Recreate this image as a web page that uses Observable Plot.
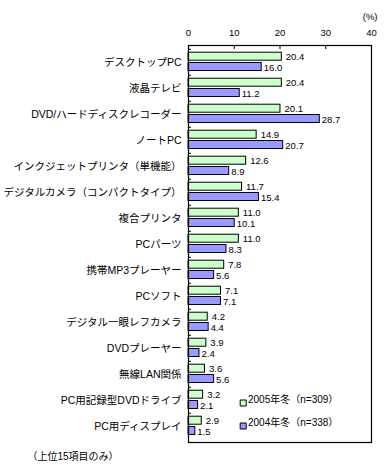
<!DOCTYPE html>
<html><head><meta charset="utf-8">
<script src="https://cdn.jsdelivr.net/npm/d3@7"></script>
<script src="https://cdn.jsdelivr.net/npm/@observablehq/plot@0.6"></script>
<style>
body{margin:0;background:#fff;}
svg{font-family:"Liberation Sans","Noto Sans CJK JP",sans-serif;}
</style></head><body><div id="chart"></div>
<script>
const categories = ["デスクトップPC","液晶テレビ","DVD/ハードディスクレコーダー","ノートPC","インクジェットプリンタ（単機能）","デジタルカメラ（コンパクトタイプ）","複合プリンタ","PCパーツ","携帯MP3プレーヤー","PCソフト","デジタル一眼レフカメラ","DVDプレーヤー","無線LAN関係","PC用記録型DVDドライブ","PC用ディスプレイ"];
const values2005 = [20.4,20.4,20.1,14.9,12.6,11.7,11.0,11.0,7.8,7.1,4.2,3.9,3.6,3.2,2.9];
const values2004 = [16.0,11.2,28.7,20.7,8.9,15.4,10.1,8.3,5.6,7.1,4.4,2.4,5.6,2.1,1.5];
const xTicks = [0,10,20,30,40];
const innerTicks = [10,20,30];
const seriesNames = ["2005年冬（n=309）","2004年冬（n=338）"];
const seriesColors = ["#ccffcc","#9999ff"];
const unitLabel = "(%)";
const footnote = "（上位15項目のみ）";

const d05 = categories.map((c,i)=>({cat:c, v:values2005[i]}));
const d04 = categories.map((c,i)=>({cat:c, v:values2004[i]}));

const legendMarks = seriesNames.flatMap((name,i)=>[
  Plot.dot([name],{frameAnchor:"bottom-left", dx:54.7, dy:-39.5+23*i, symbol:"square", r:3.4, fill:seriesColors[i], stroke:"#000", strokeWidth:1}),
  Plot.text([name],{frameAnchor:"bottom-left", dx:59.5, dy:-39.5+23*i, text:d=>d, textAnchor:"start", fontSize:10, fill:"#000"})
]);

const chart = Plot.plot({
  width:388, height:465,
  marginTop:45, marginBottom:23, marginLeft:188, marginRight:17,
  style:{fontSize:"10.5px", color:"#000", background:"#fff"},
  x:{domain:[0,40], ticks:xTicks},
  y:{domain:categories, type:"band", padding:0},
  marks:[
    Plot.barX(d05,{x:"v", y:"cat", fill:seriesColors[0], stroke:"#000", strokeWidth:1, insetTop:3.2, insetBottom:14.8}),
    Plot.barX(d04,{x:"v", y:"cat", fill:seriesColors[1], stroke:"#000", strokeWidth:1, insetTop:13.5, insetBottom:4.5}),
    Plot.text(d05,{x:"v", y:"cat", text:d=>d.v.toFixed(1), dx:4, dy:-6, textAnchor:"start", fontSize:9.5, fill:"#000"}),
    Plot.text(d04,{x:"v", y:"cat", text:d=>d.v.toFixed(1), dx:2, dy:5.5, textAnchor:"start", fontSize:9.5, fill:"#000"}),
    Plot.axisX({anchor:"top", ticks:xTicks, tickSize:0, tickPadding:10, label:null, fontSize:9.5}),
    Plot.axisX({anchor:"top", ticks:innerTicks, tickSize:-3, text:null, label:null}),
    Plot.axisY({anchor:"left", tickSize:0, tickPadding:7, label:null, fontSize:10.5}),
    Plot.axisY({anchor:"left", ticks:categories, tickSize:-3, text:null, label:null, dy:-13.25}),
    Plot.frame({stroke:"#000", strokeWidth:1.2}),
    Plot.text([unitLabel],{frameAnchor:"top-right", dx:6, dy:-32, text:d=>d, textAnchor:"end", fontSize:9.5, fill:"#000"}),
    Plot.text([footnote],{frameAnchor:"bottom-left", dx:-161, dy:17, text:d=>d, textAnchor:"start", fontSize:10, fill:"#000"}),
    ...legendMarks
  ]
});
document.getElementById("chart").appendChild(chart);
</script></body></html>
